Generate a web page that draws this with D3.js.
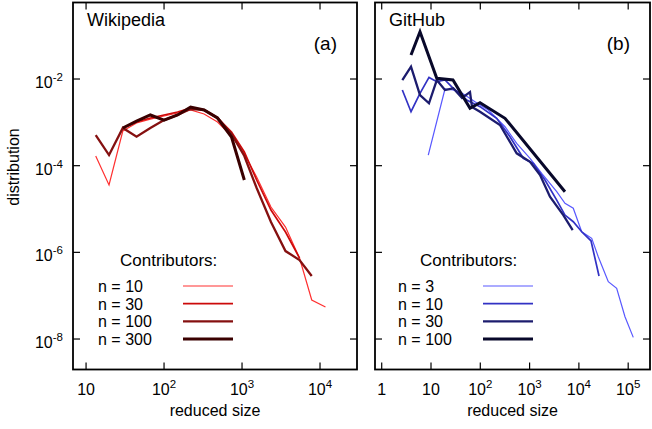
<!DOCTYPE html>
<html>
<head>
<meta charset="utf-8">
<script src="https://cdn.jsdelivr.net/npm/d3@7"></script>
<style>
  body { margin: 0; background: #fff; }
  text { font-family: "Liberation Sans", Arial, sans-serif; fill: #000; }
</style>
</head>
<body>
<svg width="652" height="429"></svg>
<script>
//
// data
//

// (a) Wikipedia
var wikiBins = [13.3, 19.7, 29.6, 44.4, 66.7, 100, 149, 219, 326, 485, 733, 1070, 1540, 2350, 3610, 5460, 7830, 11750];
var wiki10 = [1.67e-4, 3.58e-5, 6.31e-4, 9.66e-4, 1.19e-3, 1.4e-3, 1.64e-3, 1.93e-3, 1.56e-3, 1.02e-3, 4.84e-4, 1.86e-4, 5.47e-5, 1.11e-5, 3.84e-6, 7.39e-7, 7.94e-8, 5.47e-8];
var wiki30 = [null, null, 7.4e-4, 1.02e-3, 1.26e-3, 1.48e-3, 1.73e-3, 2.14e-3, 1.93e-3, 1.26e-3, 5.98e-4, 2.07e-4, 4.67e-5, 9.48e-6, 2.94e-6, 7.39e-7];
var wiki100 = [5.1e-4, 1.76e-4, 7.4e-4, 4.66e-4, 7.4e-4, 1.13e-3, 1.48e-3, 2.03e-3, 1.93e-3, 1.26e-3, 5.38e-4, 1.67e-4, 3.05e-5, 5.01e-6, 1.07e-6, 6.65e-7, 2.84e-7];
var wiki300 = [null, null, 7.4e-4, 1.07e-3, 1.48e-3, 1.13e-3, 1.48e-3, 2.26e-3, 1.93e-3, 1.26e-3, 4.58e-4, 4.67e-5];

// (b) GitHub
var git3x = [8.8, 19.2, 27.9, 38.7, 78, 145, 317, 547, 1020, 1760, 3550, 5220, 7690, 11400, 18200, 24700, 39500, 58400, 86100, 126800];
var git3y = [1.76e-4, 5.88e-3, 5.57e-3, 5.09e-3, 2.99e-3, 1.93e-3, 7.93e-4, 3.28e-4, 1.48e-4, 6.67e-5, 2.51e-5, 1.35e-5, 1.04e-5, 2.99e-6, 2.11e-6, 7.92e-7, 2.1e-7, 1.48e-7, 3.27e-8, 1.09e-8];
var git10x = [2.62, 3.93, 5.98, 9.1, 13.1, 19.2, 28.3, 53, 98.6, 215, 400, 745, 1190, 2050, 3550, 5220, 7690, 11400, 17600, 25600];
var git10y = [5.57e-3, 1.76e-3, 4.67e-3, 1.09e-2, 8.67e-3, 9.48e-3, 6.1e-3, 3.28e-3, 2.3e-3, 1.24e-3, 4.66e-4, 1.48e-4, 1.13e-4, 4.67e-5, 1.61e-5, 7.26e-6, 5.09e-6, 2.99e-6, 1.85e-6, 2.84e-7];
var git30x = [2.62, 3.93, 5.98, 9.1, 13.1, 19.2, 28.3, 42.6, 61.8, 67.9, 98.6, 251, 547, 1020, 1630, 2590, 4830, 7480];
var git30y = [9.48e-3, 1.92e-2, 4.27e-3, 2.75e-3, 9.48e-3, 5.57e-3, 6.1e-3, 3.65e-3, 5.0e-3, 2.26e-3, 1.76e-3, 8.67e-4, 1.93e-4, 1.23e-4, 6.09e-5, 1.92e-5, 7.26e-6, 3.27e-6];
var git100x = [3.93, 5.98, 13.1, 27.9, 61.8, 98.6, 317, 5220];
var git100y = [3.58e-2, 0.1236, 1.04e-2, 9.48e-3, 2.11e-3, 2.84e-3, 1.24e-3, 2.51e-5];

var wikiLabels = ["n = 10", "n = 30", "n = 100", "n = 300"];
var gitLabels = ["n = 3", "n = 10", "n = 30", "n = 100"];
var wikiColors = ["#ff3030", "#cc0a0a", "#851010", "#3a0000"];
var gitColors = ["#5858ff", "#3232c4", "#1c1c6e", "#08082a"];
var widths = [1.2, 1.7, 2.3, 3];

var yTicks = [1e-2, 1e-4, 1e-6, 1e-8];
var wikiTicks = [10, 1e2, 1e3, 1e4];
var gitTicks = [1, 10, 1e2, 1e3, 1e4, 1e5];

//
// layout
//

var svg = d3.select("svg");
var top_ = 2.5, bottom = 369.5;

var y = d3.scaleLog().domain([1.98e-9, 0.583]).range([bottom, top_]);

function zip(xs, ys) {
  var out = [];
  xs.forEach(function(v, i) {
    if (ys[i] != null) out.push([v, ys[i]]);
  });
  return out;
}

// label like 10^k, plain for 1 and 10
function powLabel(sel, v) {
  var e = Math.round(Math.log10(v));
  if (e == 0) { sel.text("1"); return; }
  if (e == 1) { sel.text("10"); return; }
  sel.append("tspan").text("10");
  sel.append("tspan").attr("font-size", "11.5px").attr("dy", -7).text(String(e));
}

function drawPanel(p) {
  var x = d3.scaleLog().domain(p.xdom).range([p.left, p.right]);
  var g = svg.append("g");

  var line = d3.line()
    .x(function(d) { return x(d[0]); })
    .y(function(d) { return y(d[1]); });

  // curves
  p.series.forEach(function(s, i) {
    g.append("path")
      .datum(s)
      .attr("d", line)
      .attr("fill", "none")
      .attr("stroke", p.colors[i])
      .attr("stroke-width", widths[i]);
  });

  // frame
  g.append("rect")
    .attr("x", p.left).attr("y", top_)
    .attr("width", p.right - p.left).attr("height", bottom - top_)
    .attr("fill", "none").attr("stroke", "#000").attr("stroke-width", 1.8);

  var tl = 7;
  // x ticks, bottom and top
  p.xticks.forEach(function(t) {
    var px = x(t);
    g.append("line").attr("x1", px).attr("x2", px).attr("y1", bottom).attr("y2", bottom - tl)
      .attr("stroke", "#000").attr("stroke-width", 1.2);
    g.append("line").attr("x1", px).attr("x2", px).attr("y1", top_).attr("y2", top_ + tl)
      .attr("stroke", "#000").attr("stroke-width", 1.2);
    var lab = g.append("text").attr("x", px).attr("y", 395)
      .attr("text-anchor", "middle").attr("font-size", "16px");
    powLabel(lab, t);
  });
  // y ticks, left and right
  yTicks.forEach(function(t) {
    var py = y(t);
    g.append("line").attr("x1", p.left).attr("x2", p.left + tl).attr("y1", py).attr("y2", py)
      .attr("stroke", "#000").attr("stroke-width", 1.2);
    g.append("line").attr("x1", p.right).attr("x2", p.right - tl).attr("y1", py).attr("y2", py)
      .attr("stroke", "#000").attr("stroke-width", 1.2);
    if (p.ylabels) {
      var lab = g.append("text").attr("x", p.left - 10).attr("y", py + 9)
        .attr("text-anchor", "end").attr("font-size", "16px");
      powLabel(lab, t);
    }
  });

  g.append("text").attr("x", (p.left + p.right) / 2).attr("y", 416)
    .attr("text-anchor", "middle").attr("font-size", "16px").text("reduced size");

  g.append("text").attr("x", p.left + 14).attr("y", 26)
    .attr("font-size", "18px").text(p.title);
  g.append("text").attr("x", p.right - 20).attr("y", 50)
    .attr("text-anchor", "end").attr("font-size", "19px").text(p.tag);

  // legend
  g.append("text").attr("x", p.legX + 22).attr("y", 266)
    .attr("font-size", "17px").text("Contributors:");
  p.labels.forEach(function(l, i) {
    var ly = 286 + i * 17.7;
    g.append("text").attr("x", p.legX).attr("y", ly + 6)
      .attr("font-size", "16px").text(l);
    g.append("line").attr("x1", p.legLine[0]).attr("x2", p.legLine[1])
      .attr("y1", ly).attr("y2", ly)
      .attr("stroke", p.colors[i]).attr("stroke-width", widths[i]);
  });
}

drawPanel({
  left: 73, right: 357, xdom: [6.8, 29800],
  xticks: wikiTicks, ylabels: true,
  title: "Wikipedia", tag: "(a)",
  series: [zip(wikiBins, wiki10), zip(wikiBins, wiki30), zip(wikiBins, wiki100), zip(wikiBins, wiki300)],
  colors: wikiColors, labels: wikiLabels,
  legX: 98, legLine: [183, 233]
});

drawPanel({
  left: 375, right: 650, xdom: [0.731, 277000],
  xticks: gitTicks, ylabels: false,
  title: "GitHub", tag: "(b)",
  series: [zip(git3x, git3y), zip(git10x, git10y), zip(git30x, git30y), zip(git100x, git100y)],
  colors: gitColors, labels: gitLabels,
  legX: 398, legLine: [483, 533]
});

// shared y label
svg.append("text")
  .attr("transform", "translate(19,167) rotate(-90)")
  .attr("text-anchor", "middle").attr("font-size", "16px").text("distribution");
</script>
</body>
</html>
